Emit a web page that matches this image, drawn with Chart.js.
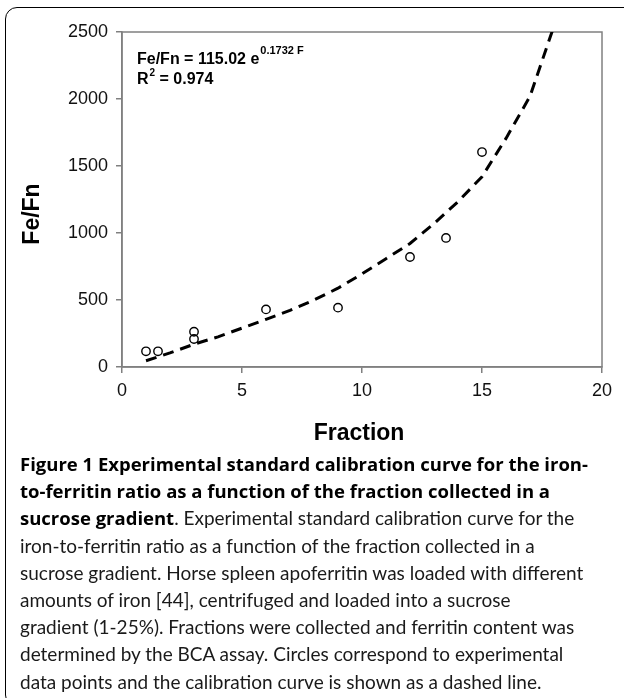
<!DOCTYPE html>
<html>
<head>
<meta charset="utf-8">
<script src="https://cdn.jsdelivr.net/npm/chart.js@4/dist/chart.umd.min.js"></script>
<style>
  html, body { margin: 0; padding: 0; background: #fff; }
  body { width: 624px; height: 698px; position: relative; overflow: hidden; }
  .frame {
    position: absolute; left: 5px; top: 7px; width: 660px; height: 700px;
    border: 1.5px solid #000; border-radius: 12px; box-sizing: border-box;
  }
  #wrap { position: absolute; left: 0; top: 0; width: 624px; height: 460px; }
  .caption {
    position: absolute; left: 20px; top: 450px;
    font-family: Lato, "Open Sans", sans-serif; font-size: 19px; line-height: 27.2px;
    color: #1a1a1a; white-space: nowrap;
  }
  .caption b { color: #000; font-family: "Open Sans", sans-serif; font-weight: 700; font-size: 18.5px; }
</style>
</head>
<body>
<div class="frame"></div>
<div id="wrap"><canvas id="chart" width="624" height="460"></canvas></div>
<div class="caption">
<b>Figure 1 Experimental standard calibration curve for the iron-</b><br>
<b>to-ferritin ratio as a function of the fraction collected in a</b><br>
<b>sucrose gradient</b>. Experimental standard calibration curve for the<br>
iron-to-ferritin ratio as a function of the fraction collected in a<br>
sucrose gradient. Horse spleen apoferritin was loaded with different<br>
amounts of iron [44], centrifuged and loaded into a sucrose<br>
gradient (1-25%). Fractions were collected and ferritin content was<br>
determined by the BCA assay. Circles correspond to experimental<br>
data points and the calibration curve is shown as a dashed line.
</div>
<script>
// Measured Fe/Fn ratio per sucrose-gradient fraction
const fractions = [1, 1.5, 3, 3, 6, 9, 12, 13.5, 15];
const feFnRatio = [117, 117, 263, 209, 430, 443, 821, 963, 1604];

// Calibration curve (dashed)
const curveFractions = [1, 2, 3, 4, 5, 6, 7, 8, 9, 10, 11, 12, 13, 14, 15, 16, 17, 18];
const curveRatio = [47, 105, 170, 225, 290, 356, 422, 500, 588, 695, 808, 922, 1070, 1234, 1420, 1706, 2020, 2545];

// Axis ticks
const xTicks = [0, 5, 10, 15, 20];
const yTicks = [0, 500, 1000, 1500, 2000, 2500];

const fitEquation = 'Fe/Fn = 115.02 e';
const fitExponent = '0.1732 F';
const fitR2 = '0.974';

const ARIAL = '"Liberation Sans", Arial, sans-serif';
const AXIS_GRAY = '#808080';

const decorations = {
  id: 'decorations',
  beforeDatasetsDraw(chart) {
    const { ctx, chartArea: a } = chart;
    ctx.save();
    ctx.strokeStyle = AXIS_GRAY;
    ctx.lineWidth = 1.5;
    ctx.strokeRect(a.left, a.top, a.right - a.left, a.bottom - a.top);
    ctx.restore();
  },
  afterDraw(chart) {
    const { ctx } = chart;
    ctx.save();
    ctx.fillStyle = '#000';
    ctx.textBaseline = 'alphabetic';
    ctx.textAlign = 'left';

    // fit equation
    ctx.font = 'bold 16px ' + ARIAL;
    ctx.fillText(fitEquation, 137, 64);
    const w1 = ctx.measureText(fitEquation).width;
    ctx.font = 'bold 11px ' + ARIAL;
    ctx.fillText(fitExponent, 137 + w1 + 1, 54);

    ctx.font = 'bold 16px ' + ARIAL;
    ctx.fillText('R', 137, 84);
    const wr = ctx.measureText('R').width;
    ctx.font = 'bold 10px ' + ARIAL;
    ctx.fillText('2', 137 + wr + 1, 76);
    const w2 = ctx.measureText('2').width;
    ctx.font = 'bold 16px ' + ARIAL;
    ctx.fillText(' = ' + fitR2, 137 + wr + w2 + 1, 84);

    // axis titles
    ctx.font = 'bold 23px ' + ARIAL;
    ctx.textAlign = 'center';
    ctx.textBaseline = 'middle';
    ctx.fillText('Fraction', 359, 434);
    ctx.translate(33, 214);
    ctx.rotate(-Math.PI / 2);
    ctx.fillText('Fe/Fn', 0, 0);
    ctx.restore();
  }
};

new Chart(document.getElementById('chart'), {
  type: 'scatter',
  data: {
    datasets: [
      {
        label: 'Calibration curve',
        data: curveFractions.map((x, i) => ({ x, y: curveRatio[i] })),
        showLine: true,
        borderColor: '#000',
        borderWidth: 3,
        borderDash: [11, 7],
        pointRadius: 0,
        tension: 0,
        order: 2
      },
      {
        label: 'Experimental',
        data: fractions.map((x, i) => ({ x, y: feFnRatio[i] })),
        showLine: false,
        pointRadius: 4.2,
        pointBorderWidth: 1.4,
        pointBorderColor: '#000',
        pointBackgroundColor: 'rgba(255,255,255,0)',
        order: 1
      }
    ]
  },
  options: {
    responsive: false,
    animation: false,
    layout: { padding: { top: 32, right: 22, left: 0, bottom: 0 } },
    plugins: { legend: { display: false }, tooltip: { enabled: false } },
    scales: {
      x: {
        type: 'linear', min: 0, max: 20,
        afterBuildTicks: s => { s.ticks = xTicks.map(v => ({ value: v })); },
        afterFit: s => { s.height = 93; },
        ticks: { color: '#111', font: { family: ARIAL, size: 18 }, padding: 7, maxRotation: 0, callback: v => String(v) },
        grid: { drawOnChartArea: false, tickLength: 6, color: AXIS_GRAY, lineWidth: 1.5 },
        border: { color: AXIS_GRAY, width: 1.5 }
      },
      y: {
        type: 'linear', min: 0, max: 2500,
        afterBuildTicks: s => { s.ticks = yTicks.map(v => ({ value: v })); },
        afterFit: s => { s.width = 122; },
        ticks: { color: '#111', font: { family: ARIAL, size: 18 }, padding: 8, callback: v => String(v) },
        grid: { drawOnChartArea: false, tickLength: 6, color: AXIS_GRAY, lineWidth: 1.5 },
        border: { color: AXIS_GRAY, width: 1.5 }
      }
    }
  },
  plugins: [decorations]
});
</script>
</body>
</html>
